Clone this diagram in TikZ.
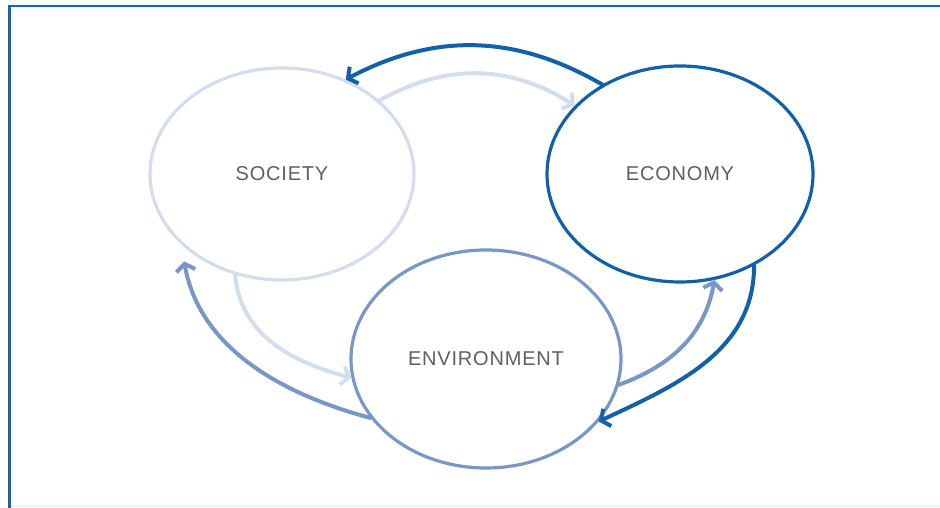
\documentclass[tikz,border=0pt]{standalone}
\usepackage{fontspec}
\setmainfont{Liberation Sans}[LetterSpace=4]
\usetikzlibrary{arrows.meta,shapes.geometric,positioning}

\definecolor{econblue}{RGB}{16,96,170}
\definecolor{envblue}{RGB}{120,150,200}
\definecolor{socblue}{RGB}{212,221,235}
\definecolor{labelgray}{RGB}{95,95,95}
\definecolor{frameblue}{RGB}{24,100,170}
\definecolor{framecyan}{RGB}{228,248,252}

\begin{document}
\begin{tikzpicture}[->,>={Straight Barb[length=7pt,width=19pt]},x=1pt,y=1pt,on grid,
    cell/.style={ellipse,draw,line width=3.2pt,inner sep=0pt,font=\fontsize{20}{24}\selectfont,text=labelgray},
    flow/.style={line width=4pt,line cap=round}]
  \useasboundingbox (0,0) rectangle (940,508);
  % frame
  \draw[-,framecyan,line width=2pt] (10,1.5) -- (940,1.5);
  \draw[-,frameblue,line width=2.6pt] (9.7,0) -- (9.7,502) -- (940,502);

  \node [cell,draw=socblue,minimum width=264pt,minimum height=212pt] (soc) at (282,334) {SOCIETY};
  \node [cell,draw=econblue,minimum width=266pt,minimum height=216pt] [right=398pt of soc] (econ) {ECONOMY};
  \node [cell,draw=envblue,minimum width=270pt,minimum height=218pt] [below right=185pt and 204pt of soc] (env) {ENVIRONMENT};

  \path (econ.131) edge [flow,econblue,bend right=29] (soc.56)
        (soc.37) edge [flow,socblue,bend left=31] (econ.147)
        (soc.245) edge [flow,socblue,out=-85,in=165] (env.188)
        (env.207) edge [flow,envblue,out=165,in=-80,shorten >=17pt] (soc.215)
        (env.-11) edge [flow,envblue,out=20,in=-100] (econ.-72)
        (econ.-51) edge [flow,econblue,out=-90,in=25] (env.-29);
\end{tikzpicture}
\end{document}
